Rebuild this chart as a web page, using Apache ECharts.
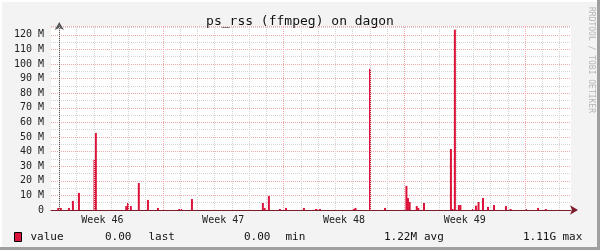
<!DOCTYPE html>
<html><head><meta charset="utf-8">
<script src="https://cdn.jsdelivr.net/npm/echarts@6/dist/echarts.min.js"></script>
<style>html,body{margin:0;padding:0;background:#f3f3f3}#c{width:600px;height:250px}</style>
</head><body><div id="c"></div>
<script>
// x = days since first midnight shown, y = RSS in MB
const sampleDays = [-0.06,0.09,0.56,0.79,1.14,2.04,2.12,3.88,3.98,4.15,4.61,5.14,5.72,6.95,7.06,7.69,
  11.80,11.90,12.15,12.79,13.14,14.18,14.88,15.03,15.11,17.08,17.17,18.01,18.88,
  20.12,20.21,20.31,20.72,20.81,21.14,22.70,22.79,22.93,23.16,23.25,23.98,24.15,24.30,24.56,24.85,25.20,
  25.89,26.16,27.05,27.75,28.20];
const rssM = [1.4,1.4,1.4,6.2,11.7,34.3,52.8,2.7,4.8,2.7,18.5,6.9,1.4,0.7,0.7,7.5,
  4.8,1.4,9.6,0.7,1.4,1.4,0.7,0.7,0.7,0.7,1.4,96.7,1.4,
  16.5,8.2,5.5,2.7,1.4,4.8,41.8,0.7,123.5,3.4,3.4,0.7,3.0,5.5,8.2,2.1,3.4,
  2.7,0.7,0.7,1.4,0.7];
const weekLabels = ['Week 46','Week 47','Week 48','Week 49'];
const weekCenters = [2.5, 9.5, 16.5, 23.5];
const weekStarts = [6, 13, 20, 27];
const dayLines = [0,1,2,3,4,5,7,8,9,10,11,12,14,15,16,17,18,19,21,22,23,24,25,26,28,29];
const legendTexts = ['value','0.00','last','0.00','min','1.22M','avg','1.11G','max'];
const legendX = [30.5, 105, 148.5, 244, 285.5, 384, 424, 523, 562.5];

const mono = 'DejaVu Sans Mono';
const chart = echarts.init(document.getElementById('c'));
const barData = sampleDays.map((d,i)=>[d, rssM[i]]);
const legendGraphics = legendTexts.map((t,i)=>({type: 'text', x: legendX[i], y: 237,
  style: {text: t, font: '11px ' + mono, fill: '#111', textVerticalAlign: 'middle'}}));
chart.setOption({
  backgroundColor: '#f3f3f3',
  animation: false,
  title: {text: 'ps_rss (ffmpeg) on dagon', left: 'center', top: 10,
    textStyle: {fontFamily: mono, fontSize: 13, fontWeight: 'normal', color: '#111'}},
  grid: {left: 51, right: 29, top: 26, bottom: 40, backgroundColor: '#fff', show: true, borderWidth: 0},
  xAxis: {type: 'value', min: -0.48, max: 29.66,
    axisLine: {show: true, onZero: false, lineStyle: {color: '#7d1b2b', width: 1},
      symbol: ['none','arrow'], symbolSize: [7, 8], symbolOffset: [0, 7]},
    axisTick: {show: false}, splitLine: {show: false},
    axisLabel: {customValues: weekCenters, margin: 5,
      formatter: v => weekLabels[weekCenters.indexOf(v)] || '',
      fontFamily: mono, fontSize: 10, color: '#222'}},
  yAxis: {type: 'value', min: 0, max: 126, interval: 10,
    axisLine: {show: true, lineStyle: {color: '#5a5a5a'}, symbol: ['none','arrow'], symbolSize: [7,8], symbolOffset: [0, 4]},
    axisTick: {show: false},
    axisLabel: {margin: 7, fontFamily: mono, fontSize: 10, color: '#222', showMaxLabel: false,
      formatter: v => v === 0 ? '0' : v + ' M'},
    splitLine: {show: true, lineStyle: {color: '#f0a8a8', type: [1, 1]}},
    minorTick: {show: false, splitNumber: 2},
    minorSplitLine: {show: true, lineStyle: {color: '#d4d4d4', type: [1, 1]}}},
  legend: {show: false},
  series: [
    {type: 'line', data: [], silent: true, z: 1,
      markLine: {silent: true, symbol: 'none', label: {show: false}, animation: false,
        data: dayLines.map(d => ({xAxis: d, lineStyle: {color: '#d4d4d4', type: [1, 1], width: 1}}))
          .concat(weekStarts.map(d => ({xAxis: d, lineStyle: {color: '#f0a8a8', type: [1, 1], width: 1}})))}},
    {name: 'value', type: 'bar', data: barData, barWidth: 2, z: 3,
      itemStyle: {color: '#dc143c'}}
  ],
  graphic: [
    {type: 'rect', shape: {x: 0, y: 0, width: 600, height: 2}, style: {fill: '#ffffff'}, silent: true},
    {type: 'rect', shape: {x: 0, y: 0, width: 2, height: 250}, style: {fill: '#ffffff'}, silent: true},
    {type: 'rect', shape: {x: 597, y: 0, width: 3, height: 250}, style: {fill: '#9f9f9f'}, silent: true},
    {type: 'rect', shape: {x: 0, y: 247, width: 600, height: 3}, style: {fill: '#9f9f9f'}, silent: true},
    {type: 'text', x: 591, y: 60, rotation: -Math.PI/2,
      style: {text: 'RRDTOOL / TOBI OETIKER', font: '8px ' + mono, fill: '#b5b5b5', textAlign: 'center', textVerticalAlign: 'middle'}},
    {type: 'rect', shape: {x: 14.5, y: 232.5, width: 7, height: 9}, style: {fill: '#dc143c', stroke: '#000', lineWidth: 1}}
  ].concat(legendGraphics)
});
</script></body></html>
